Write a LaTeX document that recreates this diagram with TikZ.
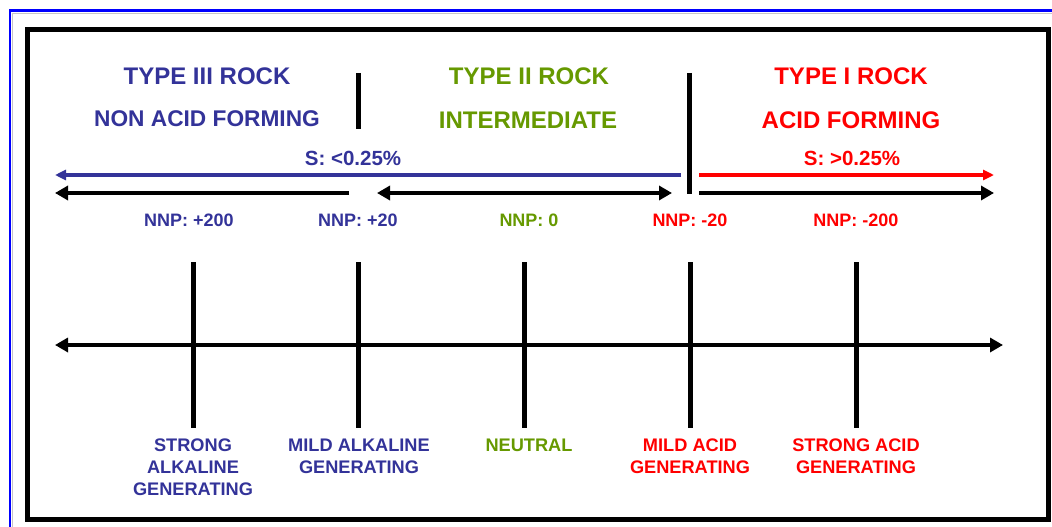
\documentclass[tikz,border=0pt]{standalone}
\usepackage{fontspec}
\setmainfont{Liberation Sans}
\usetikzlibrary{arrows.meta}
\definecolor{rockblue}{RGB}{51,51,153}
\definecolor{rockgreen}{RGB}{102,153,0}
\definecolor{rockred}{RGB}{255,0,0}

\begin{document}
\begin{tikzpicture}[x=1pt,y=-1pt,
  title/.style={inner sep=0pt,font=\fontsize{24}{28}\selectfont\bfseries},
  slabel/.style={inner sep=0pt,font=\fontsize{20.5}{24}\selectfont\bfseries},
  nnp/.style={inner sep=0pt,font=\fontsize{18}{21}\selectfont\bfseries},
  kind/.style={inner sep=0pt,anchor=north,align=center,font=\fontsize{18.2}{22}\selectfont\bfseries},
  bar/.style={line width=5pt},
  thin arrow/.style={line width=3.3pt,-{Triangle[length=11pt,width=10pt]}},
  thick arrow/.style={line width=4.5pt,-{Triangle[length=13pt,width=14pt]}}]
\useasboundingbox (0,0) rectangle (1052,527);
\fill[white] (0,0) rectangle (1052,527);
% outer frame
\draw[gray!45,line width=0.8pt] (12.8,527) -- (12.8,13) -- (1052,13);
\draw[blue,line width=2.4pt] (10,527) -- (10,10.5) -- (1052,10.5);
\draw[line width=5pt] (27.5,29.5) rectangle (1048,519.5);
% rock types
\node[title,rockblue] (t3) at (207,76) {TYPE III ROCK};
\node[title,rockblue,font=\fontsize{22.7}{28}\selectfont\bfseries] (t3b) at (207,119) {NON ACID FORMING};
\node[title,rockgreen] (t2) at (529,76) {TYPE II ROCK};
\node[title,rockgreen] (t2b) at (528,120) {INTERMEDIATE};
\node[title,rockred] (t1) at (851,76) {TYPE I ROCK};
\node[title,rockred] (t1b) at (851,120) {ACID FORMING};
\draw[bar] (358,73) -- (358,129);
\draw[bar] (689,73) -- (689,194);
% sulphur
\node[slabel,rockblue] (slow) at (353,158) {S: <0.25\%};
\node[slabel,rockred] (shigh) at (852,158) {S: >0.25\%};
\coordinate (s1) at (681,175);
\coordinate (s0) at (55,175);
\coordinate (s2) at (699,175);
\coordinate (s3) at (994,175);
\draw[thin arrow,rockblue] (s1) -- (s0);
\draw[thin arrow,rockred] (s2) -- (s3);
% nnp ranges
\coordinate (n0) at (55,193);
\coordinate (n1) at (349,193);
\coordinate (n2) at (377,193);
\coordinate (n3) at (672,193);
\coordinate (n4) at (699,193);
\coordinate (n5) at (994,193);
\draw[thick arrow] (n1) -- (n0);
\draw[thick arrow,{Triangle[length=13pt,width=14pt]}-{Triangle[length=13pt,width=14pt]}] (n2) -- (n3);
\draw[thick arrow] (n4) -- (n5);
\node[nnp,rockblue] (p1) at (189,220) {NNP: +200};
\node[nnp,rockblue] (p2) at (358,220) {NNP: +20};
\node[nnp,rockgreen] (p3) at (529,220) {NNP: 0};
\node[nnp,rockred] (p4) at (690,220) {NNP: -20};
\node[nnp,rockred] (p5) at (856,220) {NNP: -200};
% scale
\coordinate (a0) at (55,345);
\coordinate (a1) at (1003,345);
\draw[thick arrow,{Triangle[length=13pt,width=14pt]}-{Triangle[length=13pt,width=14pt]}] (a0) -- (a1);
\foreach \x in {193,358,524,690,856}
  \draw[bar] (\x,262) -- (\x,428);
\node[kind,rockblue] (k1) at (193,439) {STRONG\\ALKALINE\\GENERATING};
\node[kind,rockblue] (k2) at (359,439) {MILD ALKALINE\\GENERATING};
\node[kind,rockgreen] (k3) at (529,439) {NEUTRAL};
\node[kind,rockred] (k4) at (690,439) {MILD ACID\\GENERATING};
\node[kind,rockred] (k5) at (856,439) {STRONG ACID\\GENERATING};
\end{tikzpicture}
\end{document}
